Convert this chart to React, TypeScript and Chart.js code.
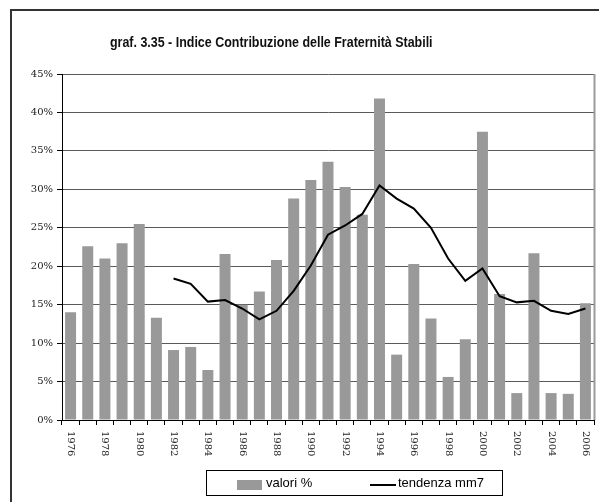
import React, { useEffect, useRef } from "react";
import { Chart, registerables } from "chart.js";

Chart.register(...registerables);

const years: string[] = [
  "1976", "1977", "1978", "1979", "1980", "1981", "1982", "1983", "1984", "1985",
  "1986", "1987", "1988", "1989", "1990", "1991", "1992", "1993", "1994", "1995",
  "1996", "1997", "1998", "1999", "2000", "2001", "2002", "2003", "2004", "2005", "2006",
];

const valori: number[] = [
  14.0, 22.6, 21.0, 23.0, 25.5, 13.3, 9.1, 9.5, 6.5, 21.6,
  15.0, 16.7, 20.8, 28.8, 31.2, 33.6, 30.3, 26.7, 41.8, 8.5,
  20.3, 13.2, 5.6, 10.5, 37.5, 16.4, 3.5, 21.7, 3.5, 3.4, 15.2,
];

const tendenza: (number | null)[] = [
  null, null, null, null, null, null, 18.4, 17.7, 15.4, 15.6,
  14.5, 13.1, 14.2, 16.8, 20.1, 24.1, 25.3, 26.8, 30.5, 28.8,
  27.5, 25.0, 21.0, 18.1, 19.7, 16.1, 15.3, 15.5, 14.2, 13.8, 14.5,
];

const yTicks: number[] = [0, 5, 10, 15, 20, 25, 30, 35, 40, 45];

const titleText = "graf. 3.35 - Indice Contribuzione delle Fraternità Stabili";
const legendBar = "valori %";
const legendLine = "tendenza mm7";

const SERIF = "'DejaVu Serif', 'Liberation Serif', serif";
const NARROW = "'Liberation Sans Narrow', 'Liberation Sans', Arial, sans-serif";

export default function App() {
  const canvasRef = useRef<HTMLCanvasElement | null>(null);

  useEffect(() => {
    const canvas = canvasRef.current;
    if (!canvas) return;

    const extras = {
      id: "extras",
      afterDraw(chart: any) {
        const ctx = chart.ctx;
        const area = chart.chartArea;
        const xs = chart.scales.x;
        ctx.save();
        // right border of plot area
        ctx.strokeStyle = "#9a9a9a";
        ctx.lineWidth = 2;
        ctx.beginPath();
        ctx.moveTo(area.right + 0.5, area.top);
        ctx.lineTo(area.right + 0.5, area.bottom);
        ctx.stroke();
        // rotated x labels, every other year
        ctx.fillStyle = "#222";
        ctx.font = `10px ${SERIF}`;
        ctx.textAlign = "left";
        ctx.textBaseline = "middle";
        for (let i = 0; i < years.length; i += 2) {
          const x = xs.getPixelForValue(i);
          ctx.save();
          ctx.translate(x, area.bottom + 11);
          ctx.rotate(Math.PI / 2);
          ctx.fillText(years[i], 0, 0);
          ctx.restore();
        }
        ctx.restore();
      },
    };

    const chart = new Chart(canvas, {
      type: "bar",
      data: {
        labels: years,
        datasets: [
          {
            type: "line",
            label: legendLine,
            data: tendenza,
            borderColor: "#000",
            borderWidth: 2,
            pointRadius: 0,
            fill: false,
            tension: 0,
            order: 0,
          } as any,
          {
            type: "bar",
            label: legendBar,
            data: valori,
            backgroundColor: "#999999",
            borderWidth: 0,
            categoryPercentage: 1,
            barPercentage: 0.64,
            order: 1,
          },
        ],
      },
      options: {
        responsive: false,
        animation: false,
        layout: { padding: { left: 0, right: 5, top: 74, bottom: 0 } },
        plugins: {
          legend: { display: false },
          title: { display: false },
          tooltip: { enabled: false },
        },
        scales: {
          x: {
            offset: true,
            grid: {
              offset: true,
              drawOnChartArea: false,
              drawTicks: true,
              tickLength: 5,
              tickColor: "#000",
            },
            border: { color: "#000", width: 1 },
            ticks: { display: false },
            afterFit(scale: any) {
              scale.height = 82;
            },
          },
          y: {
            min: 0,
            max: 45,
            afterBuildTicks(scale: any) {
              scale.ticks = yTicks.map((v) => ({ value: v }));
            },
            grid: {
              color: "#5a5a5a",
              lineWidth: 1,
              tickLength: 5,
              tickColor: "#000",
            },
            border: { color: "#000", width: 1 },
            ticks: {
              color: "#222",
              font: { family: SERIF, size: 10 },
              padding: 4,
              callback: (v: any) => `${v}%`,
            },
            afterFit(scale: any) {
              scale.width = 62;
            },
          },
        },
      },
      plugins: [extras],
    });

    return () => chart.destroy();
  }, []);

  return (
    <div
      style={{
        position: "fixed",
        left: 0,
        top: 0,
        width: 599,
        height: 502,
        overflow: "hidden",
        background: "#fff",
      }}
    >
      <div
        style={{
          position: "absolute",
          left: 10,
          top: 9,
          width: 640,
          height: 560,
          border: "2px solid #333",
        }}
      />
      <canvas
        ref={canvasRef}
        width={599}
        height={502}
        style={{ position: "absolute", left: 0, top: 0, width: 599, height: 502 }}
      />
      <div
        style={{
          position: "absolute",
          left: 0,
          width: 542,
          top: 34,
          textAlign: "center",
          fontFamily: NARROW,
          fontWeight: "bold",
          fontSize: 14,
          color: "#111",
          whiteSpace: "nowrap",
        }}
      >
        <span
          style={{
            display: "inline-block",
            transform: "scaleX(0.89)",
            transformOrigin: "center",
          }}
        >
          {titleText}
        </span>
      </div>
      <div
        style={{
          position: "absolute",
          left: 206,
          top: 470,
          width: 297,
          height: 26,
          border: "1px solid #000",
          boxSizing: "border-box",
          fontFamily: NARROW,
          fontSize: 13,
          color: "#000",
        }}
      >
        <div
          style={{
            position: "absolute",
            left: 30,
            top: 9,
            width: 25,
            height: 10,
            background: "#999999",
          }}
        />
        <div style={{ position: "absolute", left: 59, top: 4, whiteSpace: "nowrap" }}>
          {legendBar}
        </div>
        <div
          style={{
            position: "absolute",
            left: 163,
            top: 13,
            width: 26,
            height: 2,
            background: "#000",
          }}
        />
        <div style={{ position: "absolute", left: 191, top: 4, whiteSpace: "nowrap" }}>
          {legendLine}
        </div>
      </div>
    </div>
  );
}
